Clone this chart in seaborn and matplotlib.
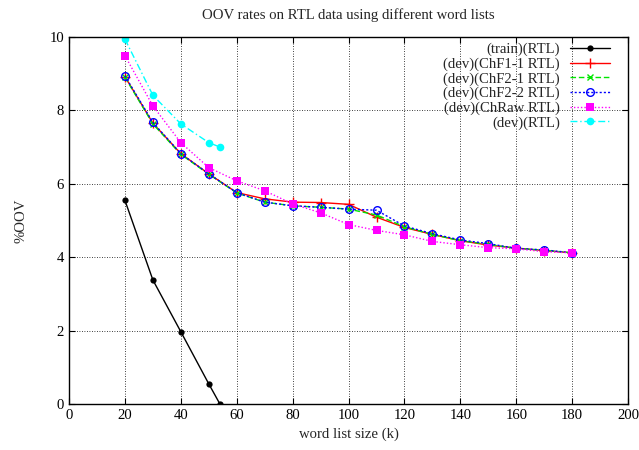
import matplotlib

matplotlib.use("Agg")

import matplotlib.pyplot as plt
import seaborn as sns


# word list size (k)
SIZES_TRAIN = [20, 30, 40, 50, 54]
OOV_TRAIN = [5.55, 3.38, 1.97, 0.55, 0.0]

SIZES_DEV = [20, 30, 40, 50, 60, 70, 80, 90, 100, 110, 120, 130, 140, 150, 160, 170, 180]
OOV_CHF1_1 = [8.92, 7.65, 6.82, 6.27, 5.76, 5.59, 5.50, 5.49, 5.44, 5.09, 4.81, 4.62, 4.45, 4.33, 4.25, 4.18, 4.12]
OOV_CHF2_1 = [8.90, 7.63, 6.80, 6.26, 5.75, 5.50, 5.40, 5.36, 5.31, 5.15, 4.83, 4.62, 4.45, 4.35, 4.24, 4.19, 4.12]
OOV_CHF2_2 = [8.94, 7.67, 6.82, 6.27, 5.76, 5.50, 5.40, 5.36, 5.31, 5.28, 4.85, 4.64, 4.47, 4.37, 4.24, 4.20, 4.12]
OOV_CHRAW = [9.49, 8.12, 7.12, 6.44, 6.08, 5.81, 5.45, 5.21, 4.89, 4.73, 4.61, 4.43, 4.34, 4.26, 4.23, 4.15, 4.12]

SIZES_RTL = [20, 30, 40, 50, 54]
OOV_RTL = [9.94, 8.41, 7.63, 7.12, 7.00]

X_TICKS = list(range(0, 201, 20))
Y_TICKS = list(range(0, 11, 2))

FS = 10.6

sns.set_theme(style="ticks")
plt.rcParams["font.family"] = ["Liberation Serif", "DejaVu Serif"]
plt.rcParams["font.size"] = FS

fig = plt.figure(figsize=(6.39, 4.5), dpi=100)
ax = fig.add_axes([0.108, 0.102, 0.875, 0.816])

series = [
    ("(train)(RTL)", SIZES_TRAIN, OOV_TRAIN,
     dict(color="black", linestyle="-", marker="o", markersize=4.5,
          markeredgecolor="black", markeredgewidth=0)),
    ("(dev)(ChF1-1 RTL)", SIZES_DEV, OOV_CHF1_1,
     dict(color="red", linestyle="-", marker="+", markersize=7,
          markeredgecolor="red", markeredgewidth=1.0)),
    ("(dev)(ChF2-1 RTL)", SIZES_DEV, OOV_CHF2_1,
     dict(color="#00e600", linestyle=(0, (4, 2)), marker="x", markersize=5,
          markeredgecolor="#00e600", markeredgewidth=1.0)),
    ("(dev)(ChF2-2 RTL)", SIZES_DEV, OOV_CHF2_2,
     dict(color="blue", linestyle=(0, (1.5, 1.5)), marker="o", markersize=5.5,
          markerfacecolor="none", markeredgecolor="blue", markeredgewidth=1.0)),
    ("(dev)(ChRaw RTL)", SIZES_DEV, OOV_CHRAW,
     dict(color="magenta", linestyle=(0, (1, 1.5)), marker="s", markersize=5.5,
          markeredgecolor="magenta", markeredgewidth=0)),
    ("(dev)(RTL)", SIZES_RTL, OOV_RTL,
     dict(color="cyan", linestyle=(0, (5, 2, 1, 2)), marker="o", markersize=5.5,
          markeredgecolor="cyan", markeredgewidth=0)),
]

for label, xs, ys, style in series:
    sns.lineplot(x=xs, y=ys, ax=ax, label=label, linewidth=1.0, **style)

ax.set_xlim(0, 200)
ax.set_ylim(0, 10)
ax.set_xticks(X_TICKS)
ax.set_yticks(Y_TICKS)
ax.grid(True, color="black", linestyle=(0, (1, 2)), linewidth=0.6)
ax.tick_params(direction="in", top=True, right=True, length=4, width=0.8,
               colors="black", labelsize=FS)
for spine in ax.spines.values():
    spine.set_visible(True)
    spine.set_color("black")
    spine.set_linewidth(1.0)

ax.set_title("OOV rates on RTL data using different word lists", fontsize=FS, pad=13)
ax.set_xlabel("word list size (k)", fontsize=FS)
ax.set_ylabel("%OOV", fontsize=FS, labelpad=16)

ax.legend(loc="upper right", frameon=False, markerfirst=False, handlelength=2.7,
          labelspacing=0.08, borderaxespad=0.0, handletextpad=0.7, fontsize=FS,
          bbox_to_anchor=(0.978, 1.0))

fig.savefig("out.png", dpi=100)
